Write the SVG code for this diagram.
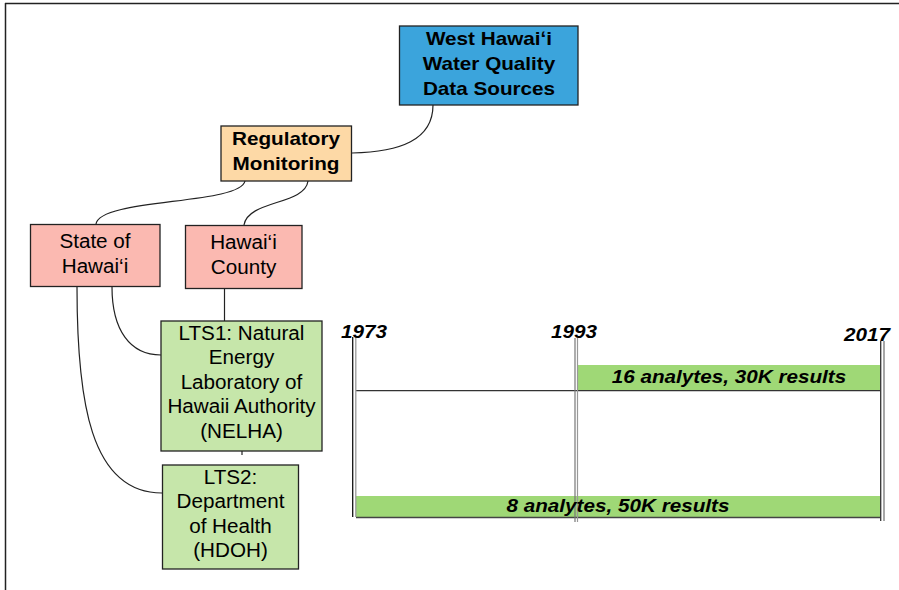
<svg xmlns="http://www.w3.org/2000/svg" width="899" height="590" viewBox="0 0 899 590">
<style>
.box{stroke:#222;stroke-width:1.3}
.t{font-family:"Liberation Sans",Arial,sans-serif;font-size:18px;fill:#000;text-anchor:middle}
.b{font-weight:bold}
.bi{font-family:"Liberation Sans",Arial,sans-serif;font-weight:bold;font-style:italic;font-size:18px;fill:#000;text-anchor:middle}
.t,.bi{transform-box:fill-box;transform-origin:center;transform:scaleX(1.15)}
.n{font-size:19.5px;transform:scaleX(1.06)}
.c{fill:none;stroke:#222;stroke-width:1.2}
</style>
<rect width="899" height="590" fill="#fff"/>
<g id="frame" fill="none" stroke="#222" stroke-width="1.5">
<line x1="5" y1="3.5" x2="899" y2="3.5"/>
<line x1="5.5" y1="3" x2="5.5" y2="590"/>
</g>
<g id="connectors">
<path class="c" d="M433 105 C433 140 400 152 352 153"/>
<path class="c" d="M245 181 C240 205 100 198 96 224"/>
<path class="c" d="M308 181 C305 205 248 200 244 225"/>
<path class="c" d="M224.5 288 L224.5 321"/>
<path class="c" d="M112 287 C112 330 130 355 161 355"/>
<path class="c" d="M77 287 C77 400 90 493 162 493"/>
<path class="c" d="M242 451 L242 455"/>
</g>
<g id="west"><rect class="box" x="399.5" y="26" width="178.5" height="79" fill="#3ba4dc"/>
<text class="t b" font-size="19" x="489" y="45">West Hawaiʻi</text>
<text class="t b" font-size="19" x="489" y="70">Water Quality</text>
<text class="t b" font-size="19" x="489" y="95">Data Sources</text></g>
<g id="regulatory"><rect class="box" x="221" y="126" width="130.5" height="55" fill="#fdd9a6"/>
<text class="t b" x="286" y="145">Regulatory</text>
<text class="t b" x="286" y="170">Monitoring</text></g>
<g id="state"><rect class="box" x="30.5" y="224.5" width="129.5" height="62" fill="#fbb9b1"/>
<text class="t n" x="95" y="248">State of</text>
<text class="t n" x="95" y="273">Hawai‘i</text></g>
<g id="county"><rect class="box" x="185.5" y="225.5" width="116.5" height="63" fill="#fbb9b1"/>
<text class="t n" x="243.5" y="249">Hawai‘i</text>
<text class="t n" x="243.5" y="274">County</text></g>
<g id="lts1"><rect class="box" x="161" y="321" width="161" height="130" fill="#c6e6aa"/>
<text class="t n" x="241.5" y="340">LTS1: Natural</text>
<text class="t n" x="241.5" y="364.5">Energy</text>
<text class="t n" x="241.5" y="389">Laboratory of</text>
<text class="t n" x="241.5" y="413.5">Hawaii Authority</text>
<text class="t n" x="241.5" y="438">(NELHA)</text></g>
<g id="lts2"><rect class="box" x="162.5" y="465" width="136" height="104" fill="#c6e6aa"/>
<text class="t n" x="230.5" y="484">LTS2:</text>
<text class="t n" x="230.5" y="508.5">Department</text>
<text class="t n" x="230.5" y="533">of Health</text>
<text class="t n" x="230.5" y="557.5">(HDOH)</text></g>
<g id="timeline">
<rect x="578" y="365" width="302" height="25.5" fill="#9fd876"/>
<rect x="356" y="496" width="524" height="21" fill="#9fd876"/>
<line x1="356" y1="390.7" x2="880" y2="390.7" stroke="#333" stroke-width="1.3"/>
<line x1="356" y1="517.5" x2="880" y2="517.5" stroke="#444" stroke-width="1.6"/>
<line x1="352.7" y1="337" x2="352.7" y2="517" stroke="#111" stroke-width="1.3"/>
<line x1="355.8" y1="337" x2="355.8" y2="517" stroke="#999" stroke-width="1.3"/>
<line x1="575" y1="338" x2="575" y2="522" stroke="#777" stroke-width="1.2"/>
<line x1="577.5" y1="338" x2="577.5" y2="522" stroke="#999" stroke-width="1.2"/>
<line x1="880.7" y1="341" x2="880.7" y2="521" stroke="#333" stroke-width="1.3"/>
<line x1="884" y1="341" x2="884" y2="521" stroke="#777" stroke-width="1.3"/>
<text class="bi" font-size="19" x="364" y="338">1973</text>
<text class="bi" font-size="19" x="574" y="338">1993</text>
<text class="bi" font-size="19" x="867" y="341">2017</text>
<text class="bi" x="729" y="383">16 analytes, 30K results</text>
<text class="bi" x="618" y="512">8 analytes, 50K results</text>
</g>
</svg>
